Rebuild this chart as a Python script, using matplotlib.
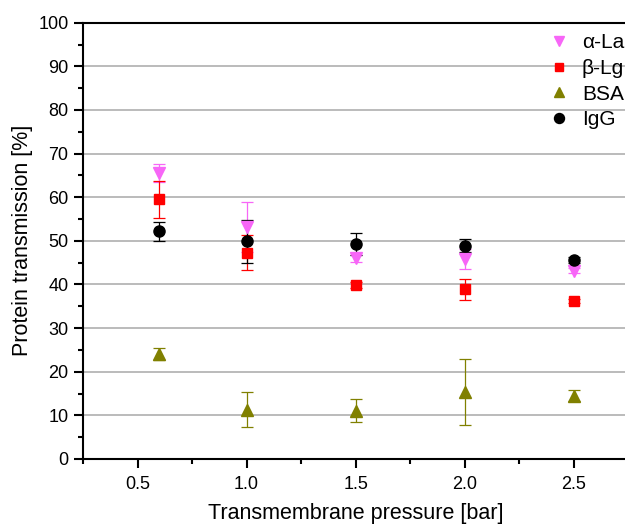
import matplotlib.pyplot as plt
from matplotlib.lines import Line2D
from matplotlib.ticker import MultipleLocator

plt.rcParams["font.family"] = ["Liberation Sans", "DejaVu Sans"]

pressure = [0.6, 1.0, 1.5, 2.0, 2.5]

la_mean = [65.5, 53.1, 46.0, 45.9, 43.2]
la_err = [2.0, 5.7, 0.8, 2.3, 0.6]

lg_mean = [59.5, 47.3, 39.8, 38.9, 36.2]
lg_err = [4.3, 4.0, 0.7, 2.4, 0.5]

bsa_mean = [24.1, 11.3, 11.1, 15.3, 14.5]
bsa_err = [1.4, 4.0, 2.7, 7.6, 1.3]

igg_mean = [52.2, 49.9, 49.3, 48.9, 45.7]
igg_err = [2.2, 4.9, 2.5, 1.5, 0.7]

series = [
    ("\u03b1-La", la_mean, la_err, "v", "#f766f7", 8.5),
    ("\u03b2-Lg", lg_mean, lg_err, "s", "#ff0000", 7),
    ("BSA", bsa_mean, bsa_err, "^", "#808000", 8.5),
    ("IgG", igg_mean, igg_err, "o", "#000000", 8),
]

fig = plt.figure(figsize=(6.25, 5.28), dpi=100)
ax = fig.add_axes([0.1328, 0.1307, 0.8725, 0.8263])

handles = []
for label, mean, err, marker, color, ms in series:
    ax.errorbar(pressure, mean, yerr=err, fmt=marker, color=color, ms=ms,
                ecolor=color, elinewidth=0.9, capsize=4, capthick=0.9,
                zorder=3)
    # legend shows only the symbol, no error bar
    handles.append(Line2D([], [], linestyle="none", marker=marker,
                          color=color, ms=ms * 0.9, label=label))

ax.set_xlim(0.25, 2.75)
ax.set_ylim(0, 100)
ax.xaxis.set_minor_locator(MultipleLocator(0.25))
ax.yaxis.set_major_locator(MultipleLocator(10))
ax.yaxis.set_minor_locator(MultipleLocator(5))
ax.set_xticks([0.5, 1.0, 1.5, 2.0, 2.5])
ax.set_xticklabels(["0.5", "1.0", "1.5", "2.0", "2.5"])

ax.tick_params(which="major", direction="out", length=6.5, width=1.5,
               labelsize=13)
ax.tick_params(which="minor", direction="out", length=3.5, width=1.5)
ax.tick_params(axis="y", pad=4)
ax.tick_params(axis="x", pad=6)

for side in ("left", "bottom", "top"):
    ax.spines[side].set_linewidth(1.5)
ax.spines["right"].set_visible(False)

ax.grid(True, axis="y", color="#b5b5b5", linewidth=1.3)
ax.set_axisbelow(True)

ax.set_xlabel("Transmembrane pressure [bar]", fontsize=15.5, labelpad=7)
ax.set_ylabel("Protein transmission [%]", fontsize=15.5, labelpad=4)

ax.legend(handles=handles, loc="upper right", bbox_to_anchor=(1.0, 0.985),
          frameon=False, fontsize=15, handlelength=1.0, handletextpad=0.6,
          labelspacing=0.32, borderaxespad=0.0, borderpad=0.2)

fig.savefig("out.png", dpi=100)
